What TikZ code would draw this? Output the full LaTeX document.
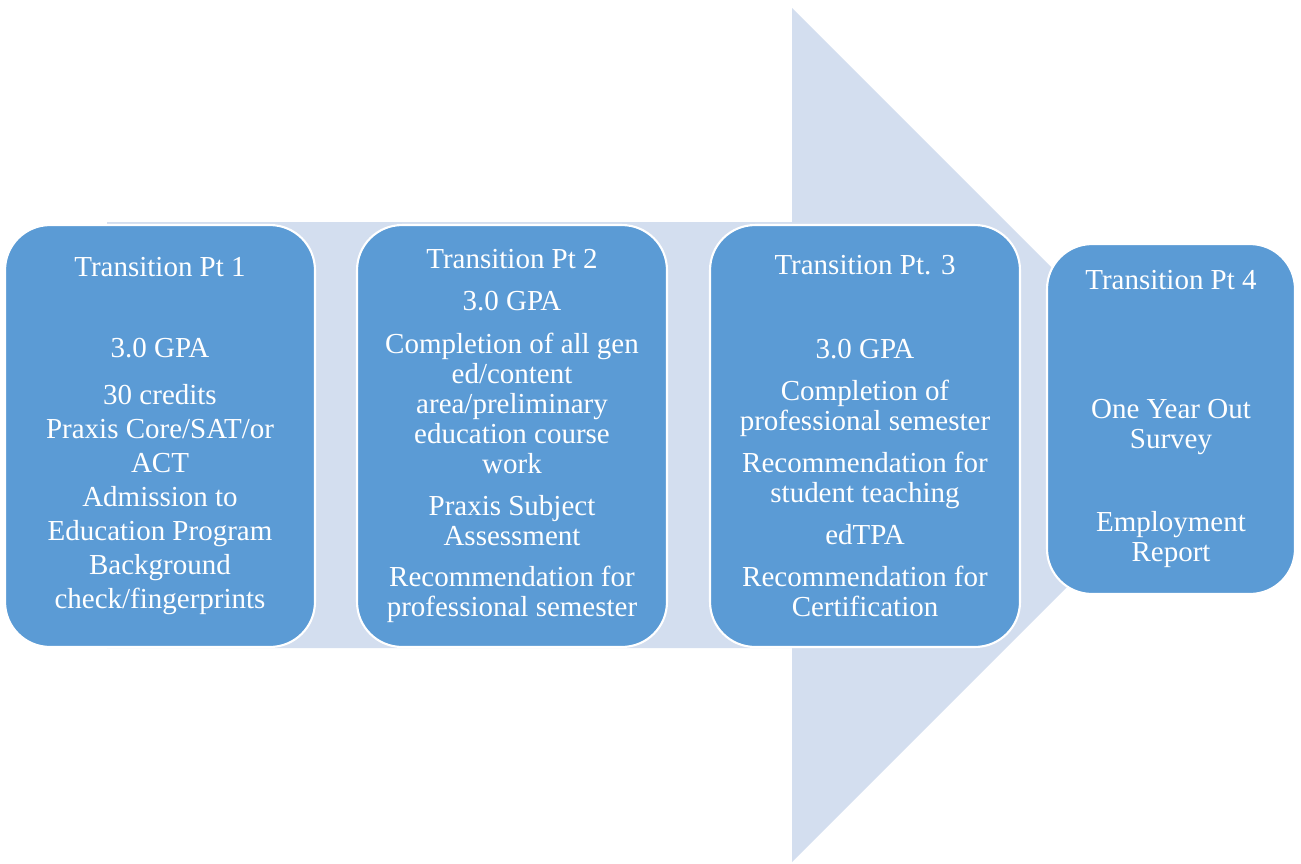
\documentclass[tikz,border=0pt]{standalone}
\usepackage{fontspec}
\setmainfont{Liberation Serif}
\usepackage{tikz}
\usetikzlibrary{positioning}
\definecolor{boxblue}{HTML}{5B9BD5}
\definecolor{arrowbg}{HTML}{D3DEEF}
\tikzstyle{stage} = [draw=white, line width=1.2pt, fill=boxblue, rounded corners=0.9cm, text=white, align=center, inner sep=0pt, font=\fontsize{16.5}{17.07pt}\selectfont]
\tikzstyle{widestage} = [stage, font=\fontsize{16.5}{19.35pt}\selectfont]

\begin{document}
\begin{tikzpicture}[x=0.02cm, y=-0.02cm]
      \useasboundingbox (0,0) rectangle (1301,863);
      % big background arrow
      \fill[arrowbg] (107,222) -- (792,222) -- (792,8) -- (1219,435) -- (792,862) -- (792,648) -- (107,648) -- cycle;
      \pgfmathsetmacro{\breite}{6.2};
      \node[widestage, minimum width=\breite cm, minimum height=8.44cm] (tp1) at (160,436) {Transition Pt 1\\[27.3pt] 3.0 GPA\\[7.4pt] 30 credits\\ Praxis Core/SAT/or\\ ACT\\ Admission to\\ Education Program\\ Background\\ check/fingerprints};
      \node[stage, minimum width=\breite cm, minimum height=8.44cm] (tp2) at (512,436) {Transition Pt 2\\[6.8pt] 3.0 GPA\\[7.9pt] Completion of all gen\\ ed/content\\ area/preliminary\\ education course\\ work\\[6.8pt] Praxis Subject\\ Assessment\\[6.3pt] Recommendation for\\ professional semester};
      \node[stage, minimum width=\breite cm, minimum height=8.44cm] (tp3) at (865,436) {Transition Pt. 3\\[30.7pt] 3.0 GPA\\[6.8pt] Completion of\\ professional semester\\[6.8pt] Recommendation for\\ student teaching\\[6.8pt] edTPA\\[6.8pt] Recommendation for\\ Certification};
      \node[stage, minimum width=4.96cm, minimum height=7cm] (tp4) at (1171,419) {Transition Pt 4\\[55.8pt] One Year Out\\ Survey\\[30.2pt] Employment\\ Report};
    \end{tikzpicture}
\end{document}
